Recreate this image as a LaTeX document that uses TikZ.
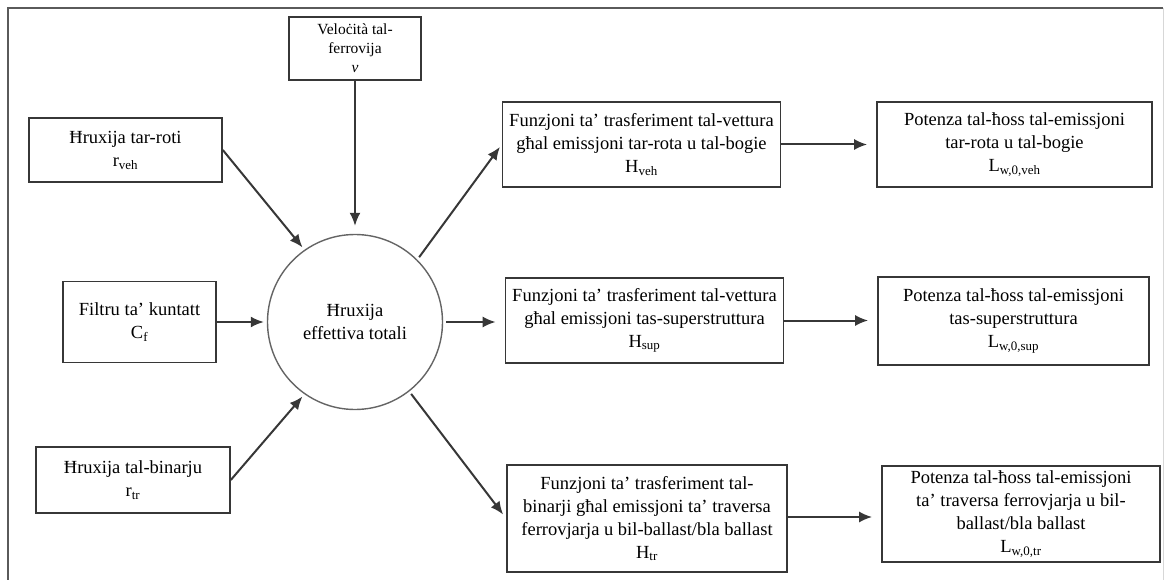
\documentclass[tikz,border=0pt]{standalone}
\usepackage{fontspec}
\setmainfont{Liberation Serif}
\usetikzlibrary{arrows.meta, positioning}
\definecolor{bdr} {RGB}{ 55, 55, 55}
\definecolor{cgr} {RGB}{100,100,100}
\definecolor{frm} {RGB}{ 90, 90, 90}
\definecolor{frl} {RGB}{215,215,215}
\tikzset{
  % Plain text box
  BX/.style={rectangle,draw=bdr,fill=white,minimum width=#1,align=center,
             inner xsep=2pt,inner ysep=2pt,line width=1.6pt,
             font=\fontsize{18.5}{23}\selectfont},
  BX/.default=260pt,
  % Central circle
  CR/.style={circle,draw=cgr,line width=1.4pt,minimum size=175pt,
             align=center,inner sep=0pt,font=\fontsize{18.5}{23}\selectfont},
  % Arrows
  Arr/.style={-{Latex[length=13pt,width=11pt]},line width=2pt,color=bdr,
              shorten >=3pt},
}
\begin{document}
\begin{tikzpicture}[x=1pt,y=-1pt]
  \useasboundingbox (0,0) rectangle (1168,580);
  % Frame
  \draw[frm,line width=1.4pt] (8,580) -- (8,8) -- (1163,8);
  \draw[frl,line width=1pt] (1163,8) -- (1163,580);
  % Inputs
  \node[BX=132pt,font=\fontsize{15.5}{19}\selectfont,minimum height=63pt]
        at (355,48.5) (vel) {Veloċità tal-\\ferrovija\\\textit{v}};
  \node[BX=193pt,minimum height=64pt] at (125.5,150) (rveh)
        {Ħruxija tar-roti\\r\textsubscript{veh}};
  \node[BX=153pt,minimum height=81pt] at (139.5,322) (cf)
        {Filtru ta’ kuntatt\\C\textsubscript{f}};
  \node[BX=194pt,minimum height=66pt] at (133,480) (rtr)
        {Ħruxija tal-binarju\\r\textsubscript{tr}};
  % Total roughness
  \node[CR] at (355,322) (circ) {Ħruxija\\effettiva totali};
  % Transfer functions
  \node[BX=278pt,minimum height=85pt] at (641.5,144.5) (hveh)
        {Funzjoni ta’ trasferiment tal-vettura\\għal emissjoni tar-rota u tal-bogie\\H\textsubscript{veh}};
  \node[BX=278pt,minimum height=85pt] at (644.5,320.5) (hsup)
        {Funzjoni ta’ trasferiment tal-vettura\\għal emissjoni tas-superstruttura\\H\textsubscript{sup}};
  \node[BX=280pt,minimum height=107pt] at (647,518.5) (htr)
        {Funzjoni ta’ trasferiment tal-\\binarji għal emissjoni ta’ traversa\\ferrovjarja u bil-ballast/bla ballast\\H\textsubscript{tr}};
  % Sound power
  \node[BX=275pt,minimum height=85pt] at (1014.5,144.5) (lveh)
        {Potenza tal-ħoss tal-emissjoni\\tar-rota u tal-bogie\\L\textsubscript{w,0,veh}};
  \node[BX=271pt,minimum height=88pt] at (1013.5,321) (lsup)
        {Potenza tal-ħoss tal-emissjoni\\tas-superstruttura\\L\textsubscript{w,0,sup}};
  \node[BX=278pt,minimum height=96pt] at (1021,514) (ltr)
        {Potenza tal-ħoss tal-emissjoni\\ta’ traversa ferrovjarja u bil-\\ballast/bla ballast\\L\textsubscript{w,0,tr}};
  % Arrows in
  \draw[Arr,shorten >=8pt] (vel.south) -- (circ.north);
  \draw[Arr] (rveh.east) -- (circ.125);
  \draw[Arr] (cf.east) -- (circ.west);
  \draw[Arr] (rtr.east) -- (circ.235);
  % Arrows out
  \draw[Arr,shorten <=3pt] (circ.45) -- (hveh.west);
  \draw[Arr,shorten <=3pt,shorten >=9pt] (circ.east) -- (circ.east -| hsup.west);
  \draw[Arr,shorten <=3pt,shorten >=5pt] (circ.-52) -- (htr.west);
  \draw[Arr,shorten >=9pt] (hveh.east) -- (hveh.east -| lveh.west);
  \draw[Arr,shorten >=9pt] (hsup.east) -- (hsup.east -| lsup.west);
  \draw[Arr,shorten >=9pt] ([yshift=1.5pt]htr.east) -- ([yshift=1.5pt]htr.east -| ltr.west);
\end{tikzpicture}
\end{document}
